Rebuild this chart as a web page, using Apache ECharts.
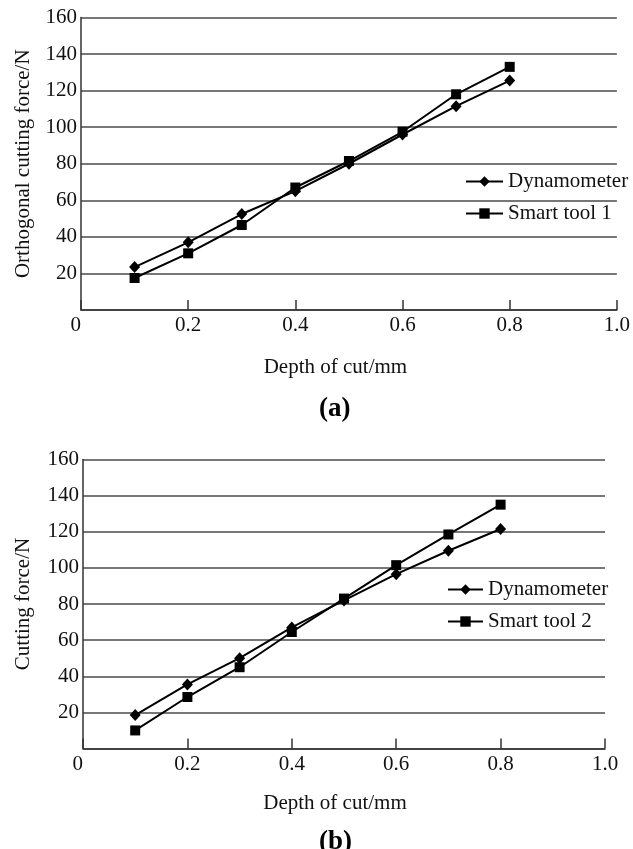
<!DOCTYPE html>
<html>
<head>
<meta charset="utf-8">
<script src="https://cdn.jsdelivr.net/npm/echarts@6/dist/echarts.min.js"></script>
<style>
  html, body { margin: 0; padding: 0; background: #fff; }
  #main { width: 633px; height: 849px; }
</style>
</head>
<body>
<div id="main"></div>
<script>
var depth = [0.1, 0.2, 0.3, 0.4, 0.5, 0.6, 0.7, 0.8];

// (a) orthogonal cutting force
var dynaA = [23.5, 37, 52.5, 65, 80, 96, 111.5, 125.5];
var smartA = [17.5, 31, 46.5, 67, 81.5, 97.5, 118, 133];

// (b) cutting force
var dynaB = [18.5, 35.5, 50, 67, 82, 96.5, 109.5, 121.5];
var smartB = [10, 28.5, 45, 64.5, 83, 101.5, 118.5, 135];

var font = "'Liberation Serif', 'Times New Roman', serif";

function pairs(xs, ys) {
  return xs.map(function (x, i) { return [x, ys[i]]; });
}

var chartDom = document.getElementById("main");
var myChart = echarts.init(chartDom);

function xAxisCfg(idx, gap, shift) {
  return {
    type: "value",
    gridIndex: idx,
    min: 0,
    max: 1,
    interval: 0.2,
    name: "Depth of cut/mm",
    nameLocation: "middle",
    nameGap: gap,
    nameTextStyle: { color: "#111", fontFamily: font, fontSize: 21, padding: [0, shift, 0, 0] },
    axisLine: { lineStyle: { color: "#333", width: 1.5 } },
    axisTick: { show: true, inside: true, length: 10, lineStyle: { color: "#333", width: 1.5 } },
    axisLabel: {
      color: "#111",
      fontFamily: font,
      fontSize: 21,
      margin: 5,
      alignMinLabel: "right",
      formatter: function (v) { return v === 0 ? "0" : v.toFixed(1); }
    },
    splitLine: { show: false }
  };
}

function yAxisCfg(idx, name, gap) {
  return {
    type: "value",
    gridIndex: idx,
    min: 0,
    max: 160,
    interval: 20,
    name: name,
    nameLocation: "middle",
    nameGap: gap,
    nameTextStyle: { color: "#111", fontFamily: font, fontSize: 21 },
    axisLine: { show: true, lineStyle: { color: "#333", width: 1.5 } },
    axisTick: { show: false },
    axisLabel: {
      color: "#111",
      fontFamily: font,
      fontSize: 21,
      margin: 4,
      formatter: function (v) { return v === 0 ? "" : String(v); }
    },
    splitLine: { show: true, lineStyle: { color: "#4a4a4a", width: 1.6 } }
  };
}

function lineSeries(name, idx, ys, symbol, size) {
  return {
    name: name,
    type: "line",
    xAxisIndex: idx,
    yAxisIndex: idx,
    data: pairs(depth, ys),
    symbol: symbol,
    symbolSize: size,
    showAllSymbol: true,
    lineStyle: { color: "#000", width: 2 },
    itemStyle: { color: "#000" },
    z: 3
  };
}

var option = {
  animation: false,
  backgroundColor: "#fff",
  grid: [
    { left: 81, right: 9, top: 17.5, height: 292.5 },
    { left: 83, right: 28, top: 459.5, height: 289 }
  ],
  xAxis: [xAxisCfg(0, 47, 27), xAxisCfg(1, 44, 18)],
  yAxis: [
    yAxisCfg(0, "Orthogonal cutting force/N", 47),
    yAxisCfg(1, "Cutting force/N", 49)
  ],
  legend: [
    {
      orient: "vertical",
      left: 460,
      top: 166,
      itemWidth: 37,
      itemHeight: 13,
      itemGap: 11,
      textStyle: { color: "#111", fontFamily: font, fontSize: 21 },
      data: ["Dynamometer", "Smart tool 1"]
    },
    {
      orient: "vertical",
      left: 442,
      top: 574,
      itemWidth: 35,
      itemHeight: 13,
      itemGap: 11,
      textStyle: { color: "#111", fontFamily: font, fontSize: 21 },
      data: ["Dynamometer ", "Smart tool 2"],
      formatter: function (n) { return n.trim(); }
    }
  ],
  title: [
    { text: "(a)", left: 314, top: 391, textStyle: { color: "#000", fontFamily: font, fontSize: 27, fontWeight: "bold" } },
    { text: "(b)", left: 314, top: 824, textStyle: { color: "#000", fontFamily: font, fontSize: 27, fontWeight: "bold" } }
  ],
  series: [
    lineSeries("Dynamometer", 0, dynaA, "diamond", [11, 12]),
    lineSeries("Smart tool 1", 0, smartA, "rect", 10),
    lineSeries("Dynamometer ", 1, dynaB, "diamond", [11, 12]),
    lineSeries("Smart tool 2", 1, smartB, "rect", 10)
  ]
};

option && myChart.setOption(option);
</script>
</body>
</html>
